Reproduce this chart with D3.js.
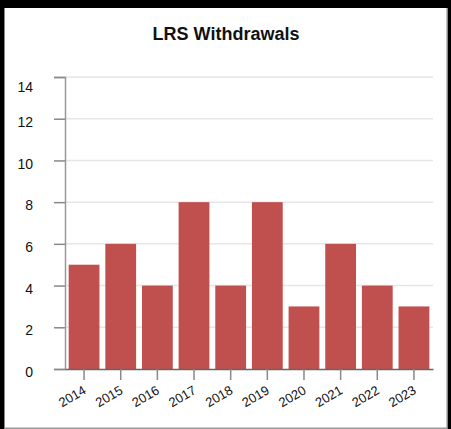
<!DOCTYPE html>
<html><head><meta charset="utf-8">
<script src="https://cdn.jsdelivr.net/npm/d3@7"></script>
<style>
html,body{margin:0;padding:0;background:#fff;}
svg{display:block;font-family:"Liberation Sans",Arial,sans-serif;}
</style></head>
<body>
<script>
const years = ["2014","2015","2016","2017","2018","2019","2020","2021","2022","2023"];
const withdrawals = [5,6,4,8,4,8,3,6,4,3];
const yTicks = [0,2,4,6,8,10,12,14];
const title = "LRS Withdrawals";

const W = 451, H = 429;
const svg = d3.select("body").append("svg").attr("width", W).attr("height", H);

// frame
svg.append("rect").attr("x",0).attr("y",0).attr("width",W).attr("height",H).attr("fill","#fff");
svg.append("rect").attr("x",0).attr("y",0).attr("width",W).attr("height",8).attr("fill","#000");
svg.append("rect").attr("x",0).attr("y",0).attr("width",4).attr("height",H).attr("fill","#000");
svg.append("rect").attr("x",448).attr("y",0).attr("width",3).attr("height",H).attr("fill","#000");
svg.append("rect").attr("x",446.5).attr("y",8).attr("width",1.5).attr("height",H).attr("fill","#888");
svg.append("rect").attr("x",4).attr("y",427.5).attr("width",443).attr("height",1.5).attr("fill","#999");
svg.append("rect").attr("x",4).attr("y",8).attr("width",1).attr("height",H).attr("fill","#888");

const x0 = 65, x1 = 433, yTop = 77, yBot = 369;
const x = d3.scaleBand().domain(years).range([x0, x1]).paddingInner(0.16).paddingOuter(0.1);
const y = d3.scaleLinear().domain([0,14]).range([yBot, yTop]);

// title
svg.append("text").attr("x", 226).attr("y", 40).attr("text-anchor","middle")
  .attr("font-size", 18).attr("font-weight","bold").attr("fill","#111").text(title);

// gridlines
svg.append("g").selectAll("line").data(yTicks.filter(d=>d>0)).join("line")
  .attr("x1", x0).attr("x2", x1).attr("y1", d=>y(d)).attr("y2", d=>y(d))
  .attr("stroke","#e6e6e6").attr("stroke-width",1.5);

// bars
svg.append("g").selectAll("rect").data(years).join("rect")
  .attr("x", d=>x(d)).attr("width", x.bandwidth())
  .attr("y", (d,i)=>y(withdrawals[i])).attr("height", (d,i)=>y(0)-y(withdrawals[i]))
  .attr("fill","#c0504d");

// y axis
const yAxis = svg.append("g").attr("transform",`translate(${x0},0)`)
  .call(d3.axisLeft(y).tickValues(yTicks).tickSize(11).tickPadding(21));
yAxis.select(".domain").attr("stroke","#999").attr("stroke-width",1.5);
yAxis.selectAll(".tick line").attr("stroke","#888").attr("stroke-width",1.5);
yAxis.selectAll(".tick text").attr("font-size",14).attr("fill","#111")
  .attr("font-family","'Liberation Sans',Arial,sans-serif")
  .attr("dy", d => d===14 ? "1em" : "0.55em");

// x axis
const xAxis = svg.append("g").attr("transform",`translate(0,${yBot})`)
  .call(d3.axisBottom(x).tickSize(11).tickSizeOuter(0));
xAxis.select(".domain").attr("stroke","#666").attr("stroke-width",1.5);
xAxis.selectAll(".tick line").attr("stroke","#888").attr("stroke-width",1.5);
xAxis.selectAll(".tick text").attr("font-size",13).attr("fill","#111")
  .attr("font-family","'Liberation Sans',Arial,sans-serif")
  .attr("text-anchor","end").attr("y",0).attr("dy",0)
  .attr("transform","translate(3,24) rotate(-30)");
</script>
</body></html>
